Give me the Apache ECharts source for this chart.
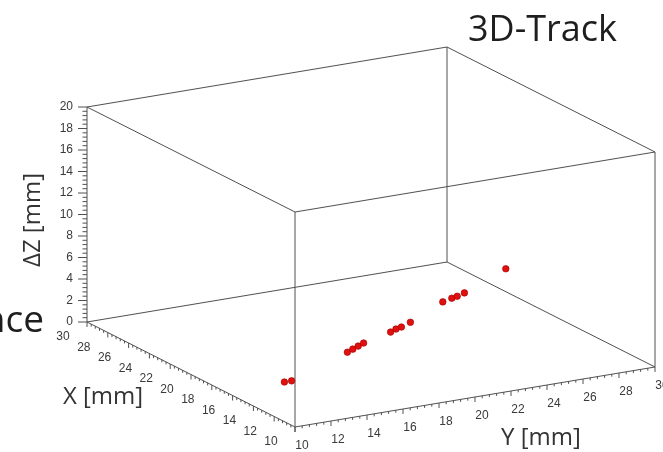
<!DOCTYPE html>
<html>
<head>
<meta charset="utf-8">
<script src="https://cdn.jsdelivr.net/npm/echarts@6/dist/echarts.min.js"></script>
<style>html,body{margin:0;padding:0;background:#fff}#c{width:663px;height:452px}</style>
</head>
<body>
<div id="c"></div>
<script>
// ---- data ----
const xTickLabels = [10, 12, 14, 16, 18, 20, 22, 24, 26, 28, 30];
const yTickLabels = [10, 12, 14, 16, 18, 20, 22, 24, 26, 28, 30];
const zTickLabels = [0, 2, 4, 6, 8, 10, 12, 14, 16, 18, 20];
const trackX = [15, 15, 15, 15, 15, 15, 15, 15, 15, 15, 15, 15, 15, 15, 15];
const trackY = [12.3, 12.7, 15.8, 16.1, 16.4, 16.7, 18.2, 18.5, 18.8, 19.3, 21.1, 21.6, 21.9, 22.3, 24.6];
const trackZ = [1.1, 1.1, 2.9, 3.1, 3.3, 3.5, 4.1, 4.3, 4.4, 4.7, 6.1, 6.3, 6.4, 6.6, 8.2];
const xRange = [10, 30], yRange = [10, 30], zRange = [0, 20];

// ---- oblique projection of the 3D box onto the plotting plane ----
const O = [295, 427];
const EX = [-10.4, -5.25], EY = [18, -3], EZ = [0, -10.75];
function proj(x, y, z) {
  const dx = x - xRange[0], dy = y - yRange[0], dz = z - zRange[0];
  return [O[0] + dx * EX[0] + dy * EY[0] + dz * EZ[0],
          O[1] + dx * EX[1] + dy * EY[1] + dz * EZ[1]];
}

const LINE = '#505050';
const LABEL_FONT = 'Liberation Sans';

// box edges (12)
const edges = [];
for (const a of [0, 1]) for (const b of [0, 1]) {
  edges.push([[xRange[0], yRange[a], zRange[b]], [xRange[1], yRange[a], zRange[b]]]);
  edges.push([[xRange[a], yRange[0], zRange[b]], [xRange[a], yRange[1], zRange[b]]]);
  edges.push([[xRange[a], yRange[b], zRange[0]], [xRange[a], yRange[b], zRange[1]]]);
}

// ticks: majors from labels, 5 subdivisions each
function withMinor(labels) {
  const out = [];
  for (let i = 0; i < labels.length; i++) {
    out.push({ v: labels[i], major: true });
    if (i < labels.length - 1) {
      const step = (labels[i + 1] - labels[i]) / 5;
      for (let k = 1; k < 5; k++) out.push({ v: labels[i] + k * step, major: false });
    }
  }
  return out;
}
const ticks = [];
withMinor(xTickLabels).forEach(t => ticks.push({ axis: 'x', ...t }));
withMinor(yTickLabels).forEach(t => ticks.push({ axis: 'y', ...t }));
withMinor(zTickLabels).forEach(t => ticks.push({ axis: 'z', ...t }));

const labels = [];
xTickLabels.forEach(v => labels.push({ axis: 'x', v }));
yTickLabels.forEach(v => labels.push({ axis: 'y', v }));
zTickLabels.forEach(v => labels.push({ axis: 'z', v }));

function axisPoint(axis, v) {
  if (axis === 'x') return proj(v, yRange[0], zRange[0]);
  if (axis === 'y') return proj(xRange[0], v, zRange[0]);
  return proj(xRange[1], yRange[0], v);
}

const chart = echarts.init(document.getElementById('c'), null, { renderer: 'canvas' });
chart.setOption({
  animation: false,
  backgroundColor: '#fff',
  grid: { left: 0, right: 0, top: 0, bottom: 0 },
  xAxis: { type: 'value', min: 0, max: 663, show: false },
  yAxis: { type: 'value', min: 0, max: 452, inverse: true, show: false },
  series: [
    {
      type: 'custom', name: 'box', silent: true,
      data: edges.map((e, i) => [i, 0]),
      renderItem(params, api) {
        const e = edges[params.dataIndex];
        const p1 = api.coord(proj(...e[0])), p2 = api.coord(proj(...e[1]));
        return { type: 'line', shape: { x1: p1[0], y1: p1[1], x2: p2[0], y2: p2[1] },
                 style: { stroke: LINE, lineWidth: 1 } };
      }
    },
    {
      type: 'custom', name: 'ticks', silent: true,
      data: ticks.map((t, i) => [i, 0]),
      renderItem(params, api) {
        const t = ticks[params.dataIndex];
        const p = api.coord(axisPoint(t.axis, t.v));
        let q;
        if (t.axis === 'z') q = [p[0] - (t.major ? 9 : 4.5), p[1]];
        else q = [p[0], p[1] + (t.major ? 5 : 2.5)];
        return { type: 'line', shape: { x1: p[0], y1: p[1], x2: q[0], y2: q[1] },
                 style: { stroke: LINE, lineWidth: 1 } };
      }
    },
    {
      type: 'custom', name: 'tickLabels', silent: true,
      data: labels.map((t, i) => [i, 0]),
      renderItem(params, api) {
        const t = labels[params.dataIndex];
        const p = api.coord(axisPoint(t.axis, t.v));
        let x, y, align = 'center';
        if (t.axis === 'z') { x = p[0] - 14; y = p[1]; align = 'right'; }
        else if (t.axis === 'x') { x = p[0] - 24; y = p[1] + 15; }
        else { x = p[0] + 7; y = p[1] + 19; }
        return { type: 'text', x, y,
                 style: { text: String(t.v), fill: '#3a3a3a', fontSize: 12, fontFamily: LABEL_FONT,
                          align, verticalAlign: 'middle' } };
      }
    },
    {
      type: 'custom', name: 'track', silent: true,
      data: trackX.map((x, i) => [trackX[i], trackY[i], trackZ[i]]),
      renderItem(params, api) {
        const p = api.coord(proj(api.value(0), api.value(1), api.value(2)));
        return { type: 'circle', shape: { cx: p[0], cy: p[1], r: 3.3 },
                 style: { fill: '#e0100f', stroke: '#a00000', lineWidth: 0.6 } };
      }
    }
  ],
  graphic: [
    { type: 'text', x: 468, y: 31, style: { text: '3D-Track', fill: '#1e1e1e', fontSize: 36, fontFamily: 'Open Sans', align: 'left', verticalAlign: 'middle' } },
    { type: 'text', x: 44, y: 321, style: { text: 'nce', fill: '#1e1e1e', fontSize: 37, fontFamily: 'Open Sans', align: 'right', verticalAlign: 'middle' } },
    { type: 'text', x: 103, y: 397, style: { text: 'X [mm]', fill: '#333', fontSize: 24, fontFamily: 'Open Sans', align: 'center', verticalAlign: 'middle' } },
    { type: 'text', x: 541, y: 438, style: { text: 'Y [mm]', fill: '#333', fontSize: 24, fontFamily: 'Open Sans', align: 'center', verticalAlign: 'middle' } },
    { type: 'text', x: 33, y: 220, rotation: Math.PI / 2, style: { text: 'ΔZ [mm]', fill: '#333', fontSize: 24, fontFamily: 'Open Sans', align: 'center', verticalAlign: 'middle' } }
  ]
});
</script>
</body>
</html>
